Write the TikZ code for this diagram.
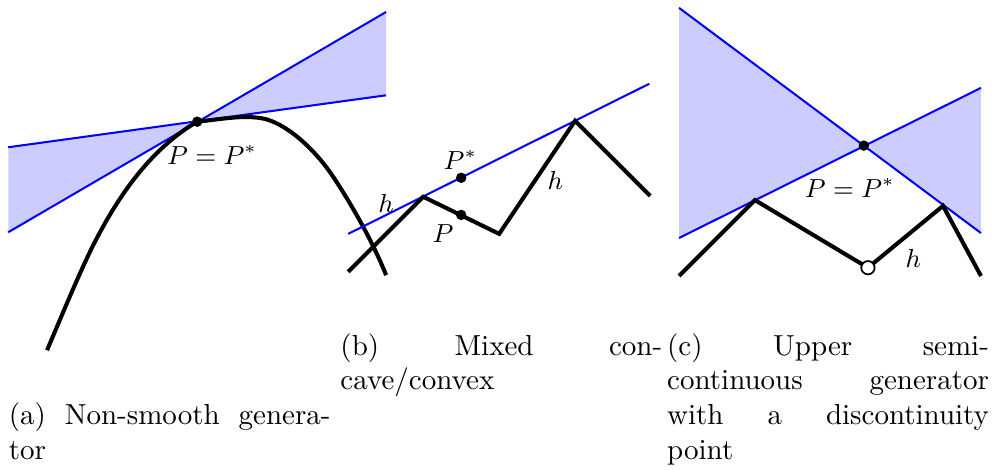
\documentclass[tikz,border=0pt]{standalone}
\usepackage{amsmath,amssymb}
\usepackage{xcolor}
\usepackage{tikz}
\usetikzlibrary{positioning}

\begin{document}
\begin{tikzpicture}[
    cone/.style={fill=blue!20, draw=none},
    tline/.style={blue, line width=0.7pt},
    gen/.style={black, line width=1.4pt},
    dot/.style={circle, fill=black, inner sep=0pt, minimum size=3.6pt},
    hole/.style={circle, draw=black, fill=white, line width=0.6pt, inner sep=0pt, minimum size=4.6pt},
    lbl/.style={font=\small},
    captext/.style={anchor=base west, text width=3.9cm, inner sep=0pt, align=left},
]
\useasboundingbox (0,0) rectangle (12.06,5.685);

% (a) Non-smooth generator
\coordinate (Pa) at (2.39,4.21);
\fill[cone] (0.10,3.90) -- (Pa) -- (0.10,2.87) -- cycle;
\fill[cone] (Pa) -- (4.68,5.54) -- (4.68,4.53) -- cycle;
\draw[tline] (0.10,3.90) -- (4.68,4.53);
\draw[tline] (0.10,2.87) -- (4.68,5.54);
\draw[gen] (0.57,1.44) .. controls (0.80,1.98) and (1.00,2.47) .. (1.18,2.81)
  .. controls (1.36,3.15) and (1.75,3.84) .. (Pa)
  .. controls (2.75,4.25) and (2.95,4.29) .. (3.18,4.25)
  .. controls (3.45,4.20) and (3.80,3.90) .. (4.04,3.54)
  .. controls (4.22,3.27) and (4.50,2.80) .. (4.68,2.35);
\node[dot] (pa) at (Pa) {};
\node[lbl] (pala) at (2.57,3.81) {$P = P^*$};

% (b) Mixed concave/convex
\draw[tline] (4.22,2.85) -- (7.87,4.67);
\draw[gen] (4.22,2.39) -- (5.13,3.30) -- (6.05,2.85) -- (6.97,4.22) -- (7.88,3.31);
\node[dot] (pb) at (5.59,3.08) {};
\node[dot] (pbs) at (5.59,3.53) {};
\node[lbl] (pbla) at (5.58,3.75) {$P^*$};
\node[lbl] (pblb) at (5.37,2.85) {$P$};
\node[lbl] (hbl) at (4.68,3.22) {$h$};
\node[lbl] (hbr) at (6.73,3.50) {$h$};

% (c) Upper semi-continuous generator
\coordinate (Pc) at (10.47,3.92);
\coordinate (jump) at (10.52,2.44);
\fill[cone] (8.23,5.59) -- (Pc) -- (8.23,2.80) -- cycle;
\fill[cone] (Pc) -- (11.89,4.62) -- (11.89,2.86) -- cycle;
\draw[tline] (8.23,5.59) -- (11.89,2.86);
\draw[tline] (8.23,2.80) -- (11.89,4.62);
\draw[gen] (8.23,2.34) -- (9.15,3.26) -- (jump);
\draw[gen] (jump) -- (11.43,3.19) -- (11.89,2.34);
\node[dot] (pc) at (Pc) {};
\node[hole] (hc) at (jump) {};
\node[lbl] (pcla) at (10.30,3.41) {$P = P^*$};
\node[lbl] (hcl) at (11.07,2.55) {$h$};

% Captions (justified lines)
\node[captext] (capa) at (0.10,0.54) {\makebox[3.9cm]{(a)\hfill Non-smooth\hfill genera-}\\tor};
\node[captext] (capb) at (4.12,1.38) {\makebox[3.9cm]{(b)\hfill Mixed\hfill con-}\\cave/convex};
\node[captext] (capc) at (8.08,1.38) {\makebox[3.9cm]{(c)\hfill Upper\hfill semi-}\\
  \makebox[3.9cm]{continuous\hfill generator}\\
  \makebox[3.9cm]{with\hfill a\hfill discontinuity}\\point};

\end{tikzpicture}
\end{document}
